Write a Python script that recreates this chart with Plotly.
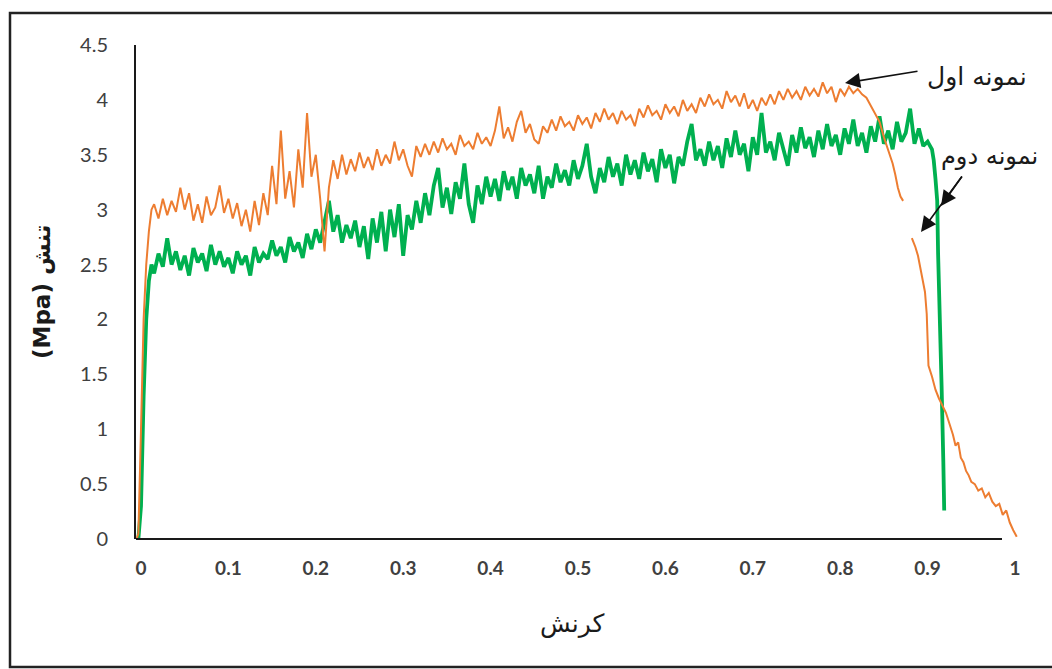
import plotly.graph_objects as go

# ---------------- data ----------------
X_MAIN = [
    0.015, 0.020, 0.025, 0.030, 0.035, 0.040, 0.045, 0.050, 0.055, 0.060,
    0.065, 0.070, 0.075, 0.080, 0.085, 0.090, 0.095, 0.100, 0.105, 0.110,
    0.115, 0.120, 0.125, 0.130, 0.135, 0.140, 0.145, 0.150, 0.155, 0.160,
    0.165, 0.170, 0.175, 0.180, 0.185, 0.190, 0.195, 0.200, 0.205, 0.210,
    0.215, 0.220, 0.225, 0.230, 0.235, 0.240, 0.245, 0.250, 0.255, 0.260,
    0.265, 0.270, 0.275, 0.280, 0.285, 0.290, 0.295, 0.300, 0.305, 0.310,
    0.315, 0.320, 0.325, 0.330, 0.335, 0.340, 0.345, 0.350, 0.355, 0.360,
    0.365, 0.370, 0.375, 0.380, 0.385, 0.390, 0.395, 0.400, 0.405, 0.410,
    0.415, 0.420, 0.425, 0.430, 0.435, 0.440, 0.445, 0.450, 0.455, 0.460,
    0.465, 0.470, 0.475, 0.480, 0.485, 0.490, 0.495, 0.500, 0.505, 0.510,
    0.515, 0.520, 0.525, 0.530, 0.535, 0.540, 0.545, 0.550, 0.555, 0.560,
    0.565, 0.570, 0.575, 0.580, 0.585, 0.590, 0.595, 0.600, 0.605, 0.610,
    0.615, 0.620, 0.625, 0.630, 0.635, 0.640, 0.645, 0.650, 0.655, 0.660,
    0.665, 0.670, 0.675, 0.680, 0.685, 0.690, 0.695, 0.700, 0.705, 0.710,
    0.715, 0.720, 0.725, 0.730, 0.735, 0.740, 0.745, 0.750, 0.755, 0.760,
    0.765, 0.770, 0.775, 0.780, 0.785, 0.790, 0.795, 0.800, 0.805, 0.810,
    0.815, 0.820, 0.825, 0.830, 0.835, 0.840, 0.845, 0.850, 0.855, 0.860,
]

# sample 1 (orange)
S1_START_X = [-0.005, -0.003, 0.0, 0.003, 0.006, 0.009, 0.012]
S1_START_Y = [0.0, 0.05, 1.0, 2.0, 2.5, 2.8, 3.0]
S1_MAIN_Y = [
    3.05, 2.92, 3.10, 2.95, 3.08, 2.98, 3.20, 3.00, 3.15, 2.90,
    3.05, 2.88, 3.12, 2.95, 3.02, 3.22, 2.97, 3.10, 2.92, 3.06,
    2.85, 3.00, 2.80, 3.08, 2.86, 3.15, 2.95, 3.40, 3.05, 3.72,
    3.10, 3.35, 3.02, 3.55, 3.20, 3.88, 3.30, 3.50, 3.10, 2.62,
    3.20, 3.45, 3.28, 3.50, 3.32, 3.46, 3.35, 3.52, 3.38, 3.48,
    3.36, 3.55, 3.40, 3.50, 3.42, 3.62, 3.45, 3.55, 3.40, 3.30,
    3.58, 3.48, 3.60, 3.50, 3.62, 3.52, 3.65, 3.55, 3.60, 3.50,
    3.68, 3.58, 3.62, 3.55, 3.70, 3.60, 3.66, 3.58, 3.72, 3.94,
    3.65, 3.75, 3.62, 3.80, 3.90, 3.70, 3.78, 3.64, 3.60, 3.76,
    3.70, 3.82, 3.72, 3.85, 3.76, 3.80, 3.72, 3.86, 3.78, 3.84,
    3.74, 3.88, 3.80, 3.92, 3.82, 3.88, 3.78, 3.90, 3.82, 3.86,
    3.76, 3.92, 3.84, 3.95, 3.86, 3.90, 3.82, 3.96, 3.88, 3.94,
    3.85, 4.00, 3.90, 3.96, 3.88, 4.02, 3.94, 4.05, 3.96, 4.00,
    3.92, 4.08, 3.98, 4.04, 3.94, 4.06, 3.92, 4.00, 3.90, 4.02,
    3.95, 4.05, 3.96, 4.08, 4.00, 4.10, 4.02, 4.08, 4.00, 4.12,
    4.04, 4.10, 4.03, 4.16, 4.06, 4.12, 3.98, 4.10, 4.04, 4.12,
    4.06, 4.10, 4.05, 4.02, 3.95, 3.88, 3.80, 3.66, 3.55, 3.42,
]
S1_END_X = [0.863, 0.866, 0.869, 0.872, None, 0.882, 0.886, 0.889, 0.893, 0.897,
            0.899, 0.900, 0.901, 0.905, 0.909, 0.913, 0.917, 0.921, 0.925, 0.929,
            0.932, 0.935, 0.938, 0.941, 0.944, 0.947, 0.950, 0.954, 0.958, 0.962,
            0.966, 0.970, 0.974, 0.978, 0.982, 0.986, 0.990, 0.994, 0.998, 1.002]
S1_END_Y = [3.32, 3.20, 3.12, 3.08, None, 2.74, 2.66, 2.58, 2.40, 2.25,
            2.05, 1.80, 1.58, 1.48, 1.36, 1.28, 1.22, 1.15, 1.05, 0.95,
            0.85, 0.88, 0.74, 0.70, 0.62, 0.58, 0.52, 0.50, 0.44, 0.46,
            0.38, 0.42, 0.34, 0.30, 0.32, 0.22, 0.26, 0.15, 0.08, 0.02]

# sample 2 (green)
S2_START_X = [-0.003, 0.0, 0.003, 0.006, 0.009, 0.012]
S2_START_Y = [0.0, 0.3, 1.3, 2.0, 2.35, 2.5]
S2_EXTRA_X = [0.865, 0.870, 0.875, 0.880, 0.885, 0.890, 0.895, 0.900, 0.905]
S2_MAIN_Y = [
    2.42, 2.60, 2.48, 2.74, 2.50, 2.62, 2.45, 2.58, 2.40, 2.65,
    2.52, 2.60, 2.44, 2.68, 2.50, 2.62, 2.48, 2.56, 2.42, 2.62,
    2.50, 2.58, 2.40, 2.66, 2.52, 2.60, 2.55, 2.72, 2.58, 2.66,
    2.52, 2.75, 2.62, 2.70, 2.56, 2.78, 2.64, 2.82, 2.70, 2.90,
    3.08, 2.80, 2.95, 2.70, 2.86, 2.74, 2.90, 2.66, 2.85, 2.55,
    2.92, 2.70, 2.98, 2.62, 3.00, 2.75, 3.05, 2.58, 2.95, 2.82,
    3.08, 2.88, 3.15, 2.95, 3.22, 3.38, 3.02, 3.20, 2.96, 3.25,
    3.10, 3.42, 3.05, 2.88, 3.22, 3.05, 3.30, 3.12, 3.28, 3.08,
    3.35, 3.18, 3.30, 3.10, 3.38, 3.22, 3.32, 3.15, 3.40, 3.10,
    3.30, 3.20, 3.42, 3.25, 3.36, 3.22, 3.45, 3.28, 3.40, 3.60,
    3.30, 3.15, 3.38, 3.25, 3.48, 3.30, 3.42, 3.22, 3.50, 3.32,
    3.45, 3.28, 3.52, 3.35, 3.46, 3.25, 3.55, 3.38, 3.50, 3.24,
    3.48, 3.40, 3.62, 3.78, 3.45, 3.55, 3.40, 3.62, 3.45, 3.58,
    3.38, 3.65, 3.48, 3.72, 3.50, 3.60, 3.35, 3.66, 3.50, 3.88,
    3.52, 3.62, 3.45, 3.70, 3.55, 3.40, 3.68, 3.52, 3.75, 3.56,
    3.66, 3.48, 3.72, 3.55, 3.78, 3.58, 3.68, 3.50, 3.74, 3.60,
    3.82, 3.58, 3.70, 3.52, 3.76, 3.62, 3.85, 3.60, 3.72, 3.55,
    3.80, 3.62, 3.70, 3.92, 3.60, 3.74, 3.58, 3.62, 3.55,
]
S2_END_X = [0.907, 0.909, 0.911, 0.912, 0.914, 0.916, 0.918, 0.919]
S2_END_Y = [3.45, 3.28, 3.08, 2.60, 2.10, 1.40, 0.70, 0.26]

X_TICKS = [0, 0.1, 0.2, 0.3, 0.4, 0.5, 0.6, 0.7, 0.8, 0.9, 1]
X_TICK_TEXT = ["0", "0.1", "0.2", "0.3", "0.4", "0.5", "0.6", "0.7", "0.8", "0.9", "1"]
Y_TICKS = [0, 0.5, 1, 1.5, 2, 2.5, 3, 3.5, 4, 4.5]
Y_TICK_TEXT = ["0", "0.5", "1", "1.5", "2", "2.5", "3", "3.5", "4", "4.5"]

X_TITLE = "کرنش"
Y_TITLE = "(Mpa) تنش"
LABEL_1 = "نمونه اول"
LABEL_2 = "نمونه دوم"

s1_x = S1_START_X + X_MAIN + S1_END_X
s1_y = S1_START_Y + S1_MAIN_Y + S1_END_Y
s2_x = S2_START_X + X_MAIN + S2_EXTRA_X + S2_END_X
s2_y = S2_START_Y + S2_MAIN_Y + S2_END_Y

# ---------------- layout geometry (pixels) ----------------
W, H = 1052, 669
L, R, T, B = 136, 1020, 45, 539


def px(xp):
    return (xp - L) / (R - L)


def py(yp):
    return (B - yp) / (B - T)


fig = go.Figure()
fig.add_trace(go.Scatter(x=s2_x, y=s2_y, mode="lines", name=LABEL_2,
                         line=dict(color="#00B050", width=3.8), connectgaps=False))
fig.add_trace(go.Scatter(x=s1_x, y=s1_y, mode="lines", name=LABEL_1,
                         line=dict(color="#ED7D31", width=2), connectgaps=False))

TICK_FONT = "Lato, 'Open Sans', 'DejaVu Sans', sans-serif"
AR_FONT = "'DejaVu Sans', 'Noto Sans', sans-serif"

fig.update_layout(
    width=W, height=H,
    margin=dict(l=L, r=W - R, t=T, b=H - B, pad=0),
    paper_bgcolor="white", plot_bgcolor="white",
    showlegend=False,
    xaxis=dict(range=[-5 / 874, -5 / 874 + 884 / 874], tickvals=X_TICKS, ticktext=X_TICK_TEXT,
               showgrid=False, zeroline=False, showline=False, ticks="",
               tickfont=dict(family=TICK_FONT, size=19, color="#404040", weight="bold"),
               ticklabelstandoff=16),
    yaxis=dict(range=[0, 4.5], tickvals=Y_TICKS, ticktext=Y_TICK_TEXT,
               showgrid=False, zeroline=False, showline=True, linecolor="#1a1a1a", linewidth=2,
               ticks="", tickfont=dict(family=TICK_FONT, size=20, color="#404040"),
               ticklabelstandoff=22),
)

shapes = [
    # x axis line (ends before x=1 as in the reference)
    dict(type="line", xref="paper", yref="paper", x0=0, x1=px(1002), y0=0, y1=0,
         line=dict(color="#1a1a1a", width=2)),
    # outer frame
    dict(type="rect", xref="paper", yref="paper", x0=px(10), x1=px(1056), y0=py(667), y1=py(13),
         line=dict(color="#222222", width=2.5), fillcolor="rgba(0,0,0,0)", layer="below"),
]
fig.update_layout(shapes=shapes)

annotations = [
    dict(text=X_TITLE, xref="paper", yref="paper", x=px(572), y=py(623), showarrow=False,
         font=dict(family=AR_FONT, size=25, color="#1a1a1a"), xanchor="center", yanchor="middle"),
    dict(text=Y_TITLE, xref="paper", yref="paper", x=px(42), y=py(292), showarrow=False,
         textangle=-90, font=dict(family=AR_FONT, size=23, color="#1a1a1a", weight="bold"),
         xanchor="center", yanchor="middle"),
    dict(text=LABEL_1, xref="paper", yref="paper", x=px(977), y=py(77), showarrow=False,
         font=dict(family=AR_FONT, size=25, color="#1a1a1a"), xanchor="center", yanchor="middle"),
    dict(text=LABEL_2, xref="paper", yref="paper", x=px(989), y=py(156), showarrow=False,
         font=dict(family=AR_FONT, size=24, color="#1a1a1a"), xanchor="center", yanchor="middle"),
    dict(text="", xref="paper", yref="paper", x=px(845), y=py(83), ax=74, ay=-12,
         showarrow=True, arrowhead=2, arrowsize=1.9, arrowwidth=1.6, arrowcolor="#111111"),
    dict(text="", xref="paper", yref="paper", x=px(941), y=py(206), ax=22, ay=-31,
         showarrow=True, arrowhead=2, arrowsize=1.9, arrowwidth=1.6, arrowcolor="#111111"),
    dict(text="", xref="paper", yref="paper", x=px(921), y=py(232), ax=42, ay=-57,
         showarrow=True, arrowhead=2, arrowsize=1.9, arrowwidth=1.6, arrowcolor="#111111"),
]
fig.update_layout(annotations=annotations)

fig.write_html("out.html")
